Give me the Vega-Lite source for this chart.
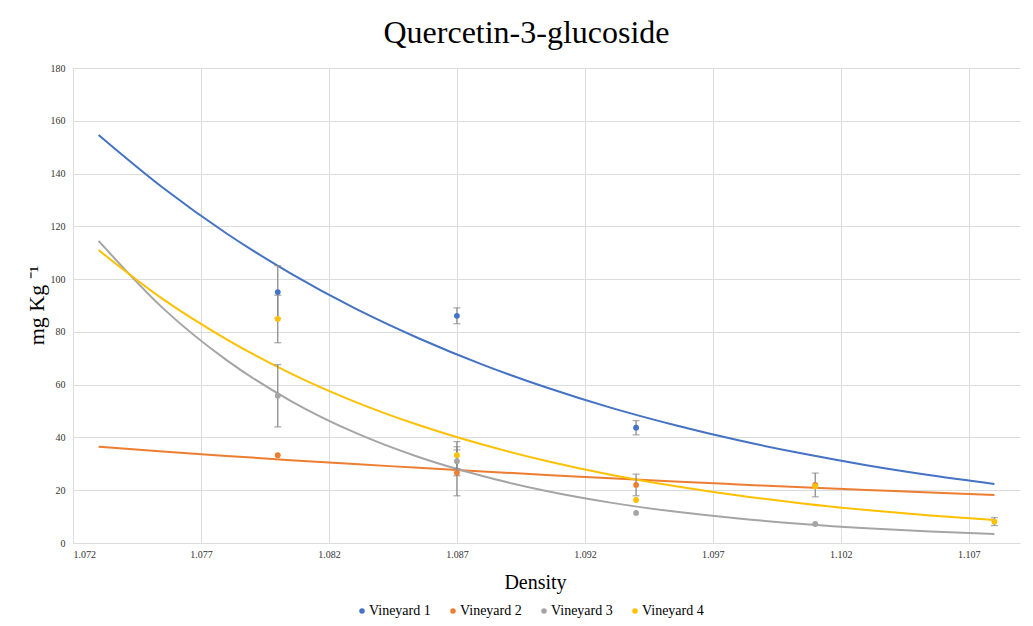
{
  "$schema": "https://vega.github.io/schema/vega-lite/v6.json",
  "autosize": "none",
  "width": 947,
  "height": 475,
  "padding": {"left": 73, "top": 68, "right": 13, "bottom": 83},
  "background": "white",
  "title": {
    "text": "Quercetin-3-glucoside",
    "font": "Liberation Serif",
    "fontSize": 32,
    "fontWeight": "normal",
    "color": "#000000",
    "anchor": "middle",
    "dx": -20,
    "offset": 13
  },
  "datasets": {
    "points": [
      {"density": 1.080, "value": 95.1, "err": 10.0, "vineyard": "Vineyard 1"},
      {"density": 1.087, "value": 86.1, "err": 3.0, "vineyard": "Vineyard 1"},
      {"density": 1.094, "value": 43.7, "err": 2.7, "vineyard": "Vineyard 1"},
      {"density": 1.080, "value": 33.3, "err": 0, "vineyard": "Vineyard 2"},
      {"density": 1.087, "value": 26.6, "err": 8.7, "vineyard": "Vineyard 2"},
      {"density": 1.094, "value": 22.0, "err": 4.1, "vineyard": "Vineyard 2"},
      {"density": 1.101, "value": 22.0, "err": 4.5, "vineyard": "Vineyard 2"},
      {"density": 1.080, "value": 55.8, "err": 11.8, "vineyard": "Vineyard 3"},
      {"density": 1.087, "value": 31.0, "err": 5.5, "vineyard": "Vineyard 3"},
      {"density": 1.094, "value": 11.4, "err": 0, "vineyard": "Vineyard 3"},
      {"density": 1.101, "value": 7.2, "err": 0, "vineyard": "Vineyard 3"},
      {"density": 1.080, "value": 84.9, "err": 9.0, "vineyard": "Vineyard 4"},
      {"density": 1.087, "value": 33.3, "err": 5.1, "vineyard": "Vineyard 4"},
      {"density": 1.094, "value": 16.3, "err": 0, "vineyard": "Vineyard 4"},
      {"density": 1.101, "value": 21.5, "err": 0, "vineyard": "Vineyard 4"},
      {"density": 1.108, "value": 8.1, "err": 1.5, "vineyard": "Vineyard 4"}
    ],
    "trend": [
      {"density": 1.0730, "value": 154.6, "vineyard": "Vineyard 1"},
      {"density": 1.0755, "value": 134.7, "vineyard": "Vineyard 1"},
      {"density": 1.0780, "value": 117.3, "vineyard": "Vineyard 1"},
      {"density": 1.0805, "value": 102.2, "vineyard": "Vineyard 1"},
      {"density": 1.0830, "value": 89.0, "vineyard": "Vineyard 1"},
      {"density": 1.0855, "value": 77.6, "vineyard": "Vineyard 1"},
      {"density": 1.0880, "value": 67.6, "vineyard": "Vineyard 1"},
      {"density": 1.0905, "value": 58.9, "vineyard": "Vineyard 1"},
      {"density": 1.0930, "value": 51.3, "vineyard": "Vineyard 1"},
      {"density": 1.0955, "value": 44.7, "vineyard": "Vineyard 1"},
      {"density": 1.0980, "value": 38.9, "vineyard": "Vineyard 1"},
      {"density": 1.1005, "value": 33.9, "vineyard": "Vineyard 1"},
      {"density": 1.1030, "value": 29.5, "vineyard": "Vineyard 1"},
      {"density": 1.1055, "value": 25.7, "vineyard": "Vineyard 1"},
      {"density": 1.1080, "value": 22.4, "vineyard": "Vineyard 1"},
      {"density": 1.0730, "value": 36.5, "vineyard": "Vineyard 2"},
      {"density": 1.0755, "value": 34.7, "vineyard": "Vineyard 2"},
      {"density": 1.0780, "value": 33.0, "vineyard": "Vineyard 2"},
      {"density": 1.0805, "value": 31.4, "vineyard": "Vineyard 2"},
      {"density": 1.0830, "value": 29.9, "vineyard": "Vineyard 2"},
      {"density": 1.0855, "value": 28.5, "vineyard": "Vineyard 2"},
      {"density": 1.0880, "value": 27.1, "vineyard": "Vineyard 2"},
      {"density": 1.0905, "value": 25.8, "vineyard": "Vineyard 2"},
      {"density": 1.0930, "value": 24.5, "vineyard": "Vineyard 2"},
      {"density": 1.0955, "value": 23.3, "vineyard": "Vineyard 2"},
      {"density": 1.0980, "value": 22.2, "vineyard": "Vineyard 2"},
      {"density": 1.1005, "value": 21.1, "vineyard": "Vineyard 2"},
      {"density": 1.1030, "value": 20.1, "vineyard": "Vineyard 2"},
      {"density": 1.1055, "value": 19.1, "vineyard": "Vineyard 2"},
      {"density": 1.1080, "value": 18.2, "vineyard": "Vineyard 2"},
      {"density": 1.0730, "value": 114.5, "vineyard": "Vineyard 3"},
      {"density": 1.0755, "value": 89.1, "vineyard": "Vineyard 3"},
      {"density": 1.0780, "value": 69.3, "vineyard": "Vineyard 3"},
      {"density": 1.0805, "value": 53.9, "vineyard": "Vineyard 3"},
      {"density": 1.0830, "value": 41.9, "vineyard": "Vineyard 3"},
      {"density": 1.0855, "value": 32.6, "vineyard": "Vineyard 3"},
      {"density": 1.0880, "value": 25.4, "vineyard": "Vineyard 3"},
      {"density": 1.0905, "value": 19.7, "vineyard": "Vineyard 3"},
      {"density": 1.0930, "value": 15.3, "vineyard": "Vineyard 3"},
      {"density": 1.0955, "value": 11.9, "vineyard": "Vineyard 3"},
      {"density": 1.0980, "value": 9.3, "vineyard": "Vineyard 3"},
      {"density": 1.1005, "value": 7.2, "vineyard": "Vineyard 3"},
      {"density": 1.1030, "value": 5.6, "vineyard": "Vineyard 3"},
      {"density": 1.1055, "value": 4.4, "vineyard": "Vineyard 3"},
      {"density": 1.1080, "value": 3.4, "vineyard": "Vineyard 3"},
      {"density": 1.0730, "value": 111.0, "vineyard": "Vineyard 4"},
      {"density": 1.0755, "value": 92.5, "vineyard": "Vineyard 4"},
      {"density": 1.0780, "value": 77.2, "vineyard": "Vineyard 4"},
      {"density": 1.0805, "value": 64.3, "vineyard": "Vineyard 4"},
      {"density": 1.0830, "value": 53.6, "vineyard": "Vineyard 4"},
      {"density": 1.0855, "value": 44.7, "vineyard": "Vineyard 4"},
      {"density": 1.0880, "value": 37.3, "vineyard": "Vineyard 4"},
      {"density": 1.0905, "value": 31.1, "vineyard": "Vineyard 4"},
      {"density": 1.0930, "value": 25.9, "vineyard": "Vineyard 4"},
      {"density": 1.0955, "value": 21.6, "vineyard": "Vineyard 4"},
      {"density": 1.0980, "value": 18.0, "vineyard": "Vineyard 4"},
      {"density": 1.1005, "value": 15.0, "vineyard": "Vineyard 4"},
      {"density": 1.1030, "value": 12.5, "vineyard": "Vineyard 4"},
      {"density": 1.1055, "value": 10.4, "vineyard": "Vineyard 4"},
      {"density": 1.1080, "value": 8.7, "vineyard": "Vineyard 4"}
    ]
  },
  "encoding": {
    "x": {
      "field": "density",
      "type": "quantitative",
      "scale": {"domain": [1.072, 1.109], "nice": false, "zero": false},
      "axis": {
        "title": "Density",
        "values": [1.072, 1.077, 1.082, 1.087, 1.092, 1.097, 1.102, 1.107],
        "format": ".3f",
        "grid": true,
        "gridColor": "#dcdcdc",
        "domain": false,
        "ticks": false,
        "labelFont": "Liberation Serif",
        "labelFontSize": 10,
        "labelColor": "#333333",
        "labelPadding": 6,
        "titleFont": "Liberation Serif",
        "titleFontSize": 20,
        "titleFontWeight": "normal",
        "titleColor": "#000000",
        "titleX": 462,
        "titleY": 39,
        "titleBaseline": "middle"
      }
    },
    "y": {
      "field": "value",
      "type": "quantitative",
      "scale": {"domain": [0, 180], "nice": false},
      "axis": {
        "title": "mg Kg ⁻¹",
        "values": [0, 20, 40, 60, 80, 100, 120, 140, 160, 180],
        "grid": true,
        "gridColor": "#dcdcdc",
        "domain": false,
        "ticks": false,
        "labelFont": "Liberation Serif",
        "labelFontSize": 10,
        "labelColor": "#333333",
        "labelPadding": 8,
        "titleFont": "Liberation Serif",
        "titleFontSize": 22,
        "titleFontWeight": "normal",
        "titleColor": "#000000",
        "titleX": -37,
        "titleY": 237,
        "titleBaseline": "middle",
        "titleAngle": -90
      }
    },
    "color": {
      "field": "vineyard",
      "type": "nominal",
      "scale": {
        "domain": ["Vineyard 1", "Vineyard 2", "Vineyard 3", "Vineyard 4"],
        "range": ["#4472c4", "#ed7d31", "#a5a5a5", "#ffc000"]
      },
      "legend": {
        "title": null,
        "orient": "none",
        "direction": "horizontal",
        "legendX": 282,
        "legendY": 536,
        "symbolType": "circle",
        "symbolSize": 30,
        "symbolStrokeWidth": 0,
        "labelFont": "Liberation Serif",
        "labelFontSize": 14,
        "labelColor": "#000000",
        "labelOffset": 0,
        "columnPadding": 15,
        "encode": {
          "symbols": {
            "update": {
              "fill": {"scale": "color", "field": "value"},
              "opacity": {"value": 1}
            }
          }
        }
      }
    }
  },
  "layer": [
    {
      "data": {"name": "trend"},
      "mark": {"type": "line", "strokeWidth": 2, "interpolate": "monotone"}
    },
    {
      "data": {"name": "points"},
      "transform": [{"filter": "datum.err > 0"}],
      "mark": {"type": "errorbar", "color": "#8c8c8c", "thickness": 1.3, "ticks": {"size": 7, "thickness": 1.3}},
      "encoding": {
        "color": {"value": "#8c8c8c"},
        "yError": {"field": "err"},
        "detail": {"field": "vineyard", "type": "nominal"}
      }
    },
    {
      "data": {"name": "points"},
      "mark": {"type": "point", "filled": true, "shape": "circle", "size": 34, "opacity": 1}
    }
  ],
  "config": {
    "view": {"stroke": null}
  }
}
